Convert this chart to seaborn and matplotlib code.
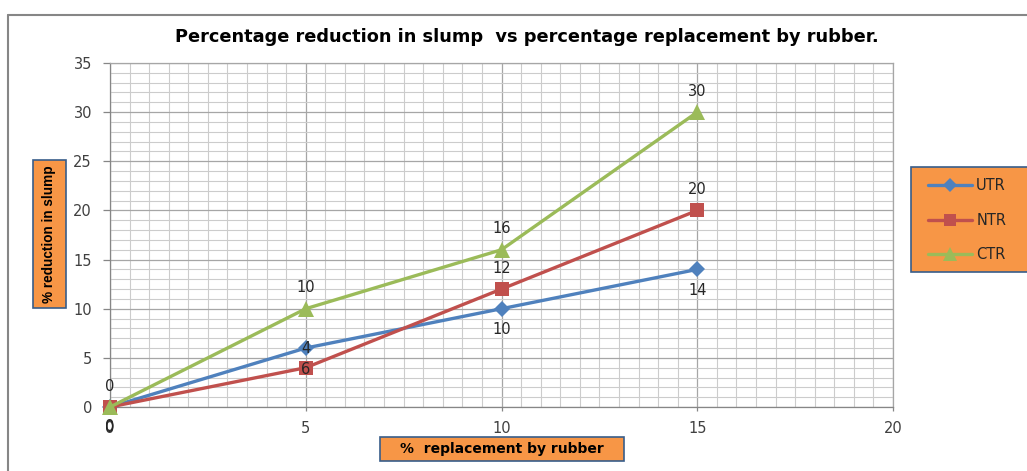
import matplotlib
matplotlib.use("Agg")
import pandas as pd
import matplotlib.pyplot as plt
import seaborn as sns
from matplotlib.lines import Line2D
from matplotlib.patches import Rectangle
from matplotlib.ticker import MultipleLocator

# data
replacement = [0, 5, 10, 15]
series_names = ["UTR", "NTR", "CTR"]
utr_values = [0, 6, 10, 14]
ntr_values = [0, 4, 12, 20]
ctr_values = [0, 10, 16, 30]
# data labels as printed in the source (the 5% labels of UTR/NTR are swapped there)
utr_labels = ["0", "4", "10", "14"]
ntr_labels = ["0", "6", "12", "20"]
ctr_labels = ["0", "10", "16", "30"]
x_ticks = [0, 5, 10, 15, 20]
y_ticks = [0, 5, 10, 15, 20, 25, 30, 35]

title = "Percentage reduction in slump  vs percentage replacement by rubber."
x_label = "%  replacement by rubber"
y_label = "% reduction in slump"

# styling
colors = {"UTR": "#4F81BD", "NTR": "#C0504D", "CTR": "#9BBB59"}
markers = {"UTR": "D", "NTR": "s", "CTR": "^"}
marker_sizes = {"UTR": 8.5, "NTR": 10.5, "CTR": 11.5}
label_offsets = {
    "UTR": [(0, -15), (0, 0), (0, -15), (0, -15)],
    "NTR": [(0, -14), (0, -1.5), (0, 15), (0, 15)],
    "CTR": [(0, 15), (0, 15), (0, 15), (0, 15)],
}
ORANGE = "#F79646"
BOX_EDGE = "#385D8A"
TEXT = "#404040"

values = {"UTR": utr_values, "NTR": ntr_values, "CTR": ctr_values}
labels = {"UTR": utr_labels, "NTR": ntr_labels, "CTR": ctr_labels}

df = pd.DataFrame({
    "replacement": replacement * len(series_names),
    "reduction": utr_values + ntr_values + ctr_values,
    "series": [s for s in series_names for _ in replacement],
})

sns.set_style("white")
plt.rcParams["font.family"] = ["DejaVu Sans"]

W, H = 1027, 471
fig = plt.figure(figsize=(W / 100, H / 100), dpi=100)
ax = fig.add_axes([110 / W, 1 - 407 / H, (893 - 110) / W, (407 - 63) / H])

for name in series_names:
    sub = df[df["series"] == name]
    sns.lineplot(data=sub, x="replacement", y="reduction", color=colors[name],
                 marker=markers[name], markersize=marker_sizes[name],
                 markeredgewidth=0, linewidth=2.4, ax=ax, legend=False, zorder=3)
for line in ax.lines:
    line.set_clip_on(False)

for name in series_names:
    for x, y, txt, off in zip(replacement, values[name], labels[name], label_offsets[name]):
        ax.annotate(txt, (x, y), xytext=off, textcoords="offset points",
                    ha="center", va="center", fontsize=10.5, color="#262626", zorder=5)

ax.set_xlim(0, 20)
ax.set_ylim(0, 35)
ax.set_xticks(x_ticks)
ax.set_yticks(y_ticks)
ax.xaxis.set_minor_locator(MultipleLocator(0.5))
ax.yaxis.set_minor_locator(MultipleLocator(1))
ax.set_axisbelow(True)
ax.grid(which="major", color="#a6a6a6", linewidth=0.9)
ax.grid(which="minor", color="#cccccc", linewidth=0.8)
ax.tick_params(which="minor", length=0)
ax.tick_params(axis="y", which="major", length=5, width=0.9, pad=8, color="#868686",
               labelsize=10.5, labelcolor=TEXT, left=True)
ax.tick_params(axis="x", which="major", length=3, width=0.9, pad=7, color="#868686",
               labelsize=10.5, labelcolor=TEXT, bottom=True)
ax.set_xlabel("")
ax.set_ylabel("")
for side, spine in ax.spines.items():
    spine.set_color("#868686" if side in ("left", "bottom") else "#a6a6a6")
    spine.set_linewidth(0.9)

# outer chart frame (cropped on right and bottom in the source)
fig.add_artist(Line2D([8 / W, 1.0], [1 - 15 / H] * 2, transform=fig.transFigure,
                      color="#868686", linewidth=1.5))
fig.add_artist(Line2D([8 / W] * 2, [0.0, 1 - 15 / H], transform=fig.transFigure,
                      color="#868686", linewidth=1.5))

fig.text(527 / W, 1 - 37 / H, title, ha="center", va="center",
         fontsize=12.8, fontweight="bold", color="black")

# axis titles in orange boxes
fig.add_artist(Rectangle((33 / W, 1 - 308 / H), 33 / W, 148 / H, transform=fig.transFigure,
                         facecolor=ORANGE, edgecolor=BOX_EDGE, linewidth=1.2))
fig.text(49.5 / W, 1 - 234 / H, y_label, rotation=90, ha="center", va="center",
         fontsize=9.8, fontweight="bold", family=["Liberation Sans"], color="black")
fig.add_artist(Rectangle((380 / W, 1 - 461 / H), 244 / W, 24 / H, transform=fig.transFigure,
                         facecolor=ORANGE, edgecolor=BOX_EDGE, linewidth=1.2))
fig.text(502 / W, 1 - 449 / H, x_label, ha="center", va="center",
         fontsize=10, fontweight="bold", color="black")

# legend box
fig.add_artist(Rectangle((911 / W, 1 - 272 / H), 0.2, 105 / H, transform=fig.transFigure,
                         facecolor=ORANGE, edgecolor=BOX_EDGE, linewidth=1.2))
handles = [Line2D([], [], color=colors[n], marker=markers[n], markersize=marker_sizes[n] * 0.85,
                  markeredgewidth=0, linewidth=2.4) for n in series_names]
fig.legend(handles, series_names, loc="upper left", bbox_to_anchor=(928 / W, 1 - 178 / H),
           frameon=False, fontsize=10.5, handlelength=3.0, handletextpad=0.3,
           labelspacing=1.35, borderpad=0, borderaxespad=0, labelcolor="#262626")

fig.savefig("out.png", dpi=100)
